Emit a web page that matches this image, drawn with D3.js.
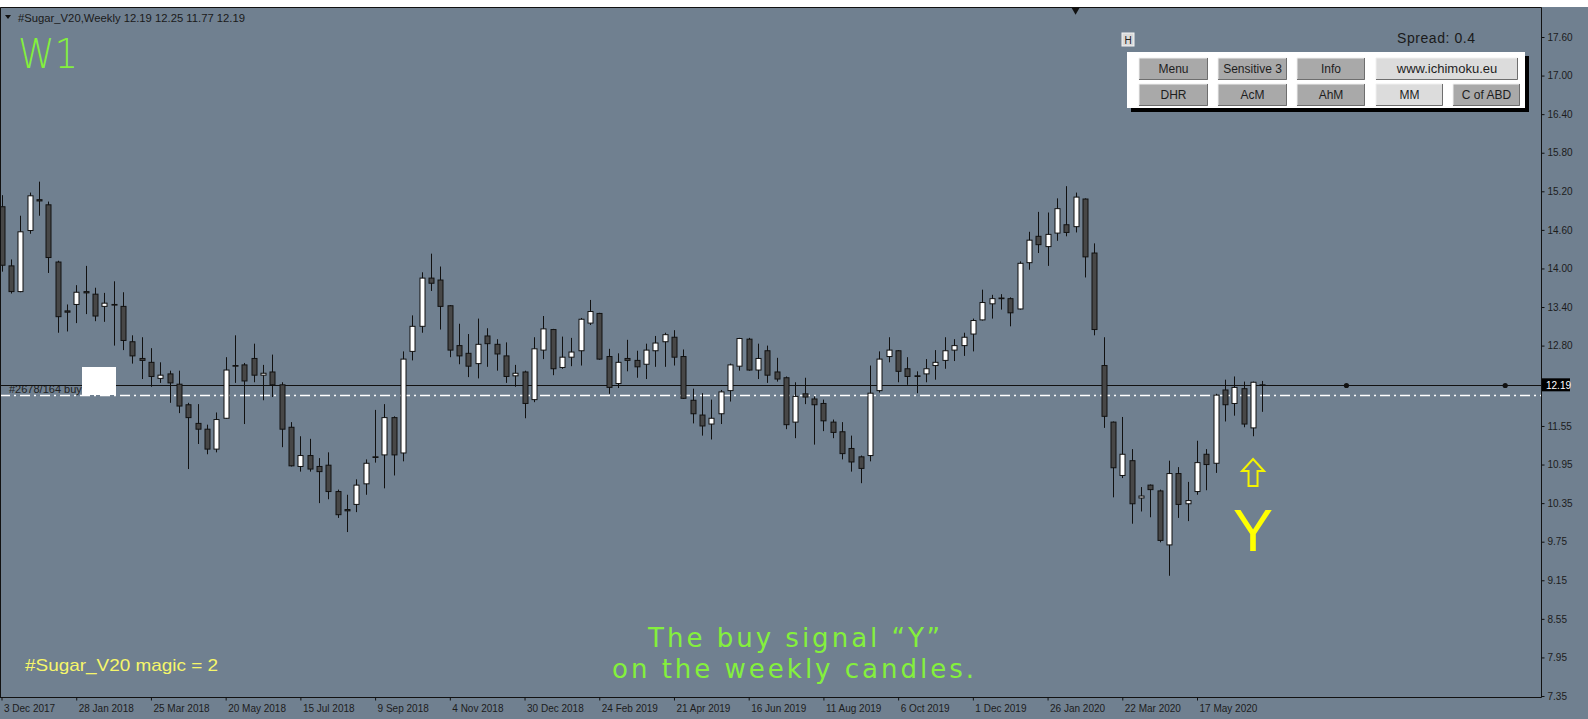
<!DOCTYPE html>
<html>
<head>
<meta charset="utf-8">
<script src="https://cdn.jsdelivr.net/npm/d3@7"></script>
<style>
  body { margin: 0; background: #ffffff; }
  svg { display: block; }
</style>
</head>
<body>
<div id="chart"></div>
<script>
// weekly candles, #Sugar_V20 (bar 0 = week of 3 Dec 2017)
var open  = [14.96,14.04,13.64,14.59,15.07,14.99,14.10,13.34,13.44,13.64,13.60,13.41,13.44,13.41,12.86,12.60,12.54,12.29,12.36,12.20,
             11.88,11.59,11.50,11.19,11.67,12.49,12.50,12.60,12.34,12.39,12.19,11.53,10.92,11.09,10.92,10.94,10.53,10.25,10.33,10.65,
             11.07,11.10,11.68,11.13,12.71,13.10,13.85,13.82,13.42,12.80,12.68,12.52,12.95,12.82,12.64,12.33,12.39,11.96,12.73,13.05,
             12.46,12.62,12.72,13.15,13.30,12.63,12.21,12.60,12.57,12.51,12.72,12.86,12.93,12.63,11.95,11.72,11.58,11.74,12.10,12.48,
             12.90,12.42,12.72,12.39,12.30,11.61,12.05,11.97,11.90,11.61,11.46,11.20,11.07,11.09,12.10,12.63,12.72,12.44,12.33,12.36,
             12.49,12.57,12.73,12.80,12.98,13.20,13.45,13.54,13.53,13.37,14.09,14.50,14.34,14.55,14.68,14.65,15.08,14.24,12.49,11.61,
             10.78,11.01,10.43,10.63,10.54,9.70,10.81,10.34,10.53,11.11,10.97,12.11,11.90,12.13,11.52,12.19];
var high  = [15.14,14.14,14.82,15.18,15.35,15.04,14.12,13.44,13.74,14.04,13.70,13.62,13.80,13.63,12.96,12.93,12.76,12.54,12.41,12.41,
             11.91,11.89,11.57,11.76,12.62,12.96,12.53,12.83,12.50,12.66,12.23,11.61,11.39,11.35,11.05,11.14,10.56,10.48,10.72,11.03,
             11.80,11.89,11.70,12.71,13.27,13.94,14.23,14.03,13.43,13.14,12.98,13.22,13.07,12.90,12.85,12.50,12.41,12.93,13.26,13.06,
             12.94,12.92,13.23,13.51,13.31,12.75,12.68,12.89,12.72,12.83,12.95,13.00,13.04,12.74,12.13,12.06,11.96,12.11,12.52,12.92,
             12.92,12.83,12.80,12.61,12.32,12.23,12.30,12.01,11.96,11.65,11.61,11.40,11.09,12.49,12.71,12.93,12.73,12.62,12.40,12.59,
             12.73,12.93,12.90,13.00,13.22,13.67,13.59,13.60,13.55,14.11,14.57,14.88,14.87,15.09,15.28,15.18,15.09,14.39,12.93,11.62,
             11.69,11.19,10.60,10.64,10.56,11.01,10.91,10.68,11.32,11.19,12.05,12.27,12.32,12.24,12.24,12.25];
var low   = [13.95,13.61,13.63,14.54,14.82,13.93,13.00,13.02,13.15,13.29,13.18,13.17,12.80,12.73,12.52,12.28,12.16,12.22,11.91,11.75,
             10.88,11.27,11.11,11.14,11.66,12.22,11.58,12.23,11.95,12.00,11.22,10.92,10.84,10.84,10.35,10.41,10.12,9.90,10.21,10.48,
             10.98,10.58,10.78,11.00,12.57,13.00,13.65,13.05,12.62,12.51,12.31,12.29,12.47,12.41,12.22,12.16,11.67,11.92,12.59,12.34,
             12.44,12.48,12.49,13.12,12.58,12.05,12.14,12.40,12.30,12.28,12.47,12.47,12.49,11.97,11.59,11.40,11.34,11.58,11.93,12.41,
             12.41,12.28,12.22,12.24,11.50,11.36,11.89,11.26,11.47,11.36,11.03,10.84,10.66,11.00,12.07,12.54,12.23,12.19,12.06,12.23,
             12.27,12.44,12.56,12.64,12.71,13.19,13.22,13.36,13.10,13.36,13.98,14.24,14.04,14.43,14.50,14.56,13.86,12.96,11.52,10.44,
             10.74,10.03,10.22,10.13,9.74,9.22,10.12,10.07,10.48,10.55,10.82,11.62,11.71,11.53,11.39,11.77];
var close = [14.05,13.64,14.57,15.13,15.05,14.17,13.25,13.32,13.63,13.62,13.26,13.46,13.43,12.88,12.64,12.57,12.32,12.34,12.22,11.86,
             11.68,11.50,11.19,11.65,12.42,12.48,12.25,12.34,12.37,12.19,11.50,10.93,11.09,10.88,10.84,10.53,10.17,10.23,10.63,10.97,
             11.06,11.68,11.10,12.59,13.10,13.85,13.77,13.41,12.73,12.64,12.48,12.82,12.83,12.67,12.32,12.37,11.90,12.75,13.06,12.44,
             12.62,12.70,13.21,13.33,12.59,12.15,12.54,12.57,12.47,12.73,12.84,12.97,12.62,11.98,11.74,11.55,11.67,12.08,12.50,12.91,
             12.42,12.60,12.34,12.28,11.57,12.01,12.00,11.88,11.63,11.45,11.12,10.99,10.89,12.06,12.59,12.73,12.40,12.32,12.32,12.44,
             12.54,12.72,12.80,12.93,13.19,13.47,13.53,13.53,13.31,14.08,14.44,14.37,14.53,14.93,14.56,15.11,14.18,13.05,11.70,10.90,
             11.11,10.34,10.46,10.56,9.77,10.81,10.33,10.39,10.98,10.95,12.03,11.88,12.15,11.58,12.23,12.19];

var dateLabels = ["3 Dec 2017","28 Jan 2018","25 Mar 2018","20 May 2018","15 Jul 2018","9 Sep 2018","4 Nov 2018",
                  "30 Dec 2018","24 Feb 2019","21 Apr 2019","16 Jun 2019","11 Aug 2019","6 Oct 2019","1 Dec 2019",
                  "26 Jan 2020","22 Mar 2020","17 May 2020"];
var priceTicks = [17.60,17.00,16.40,15.80,15.20,14.60,14.00,13.40,12.80,11.55,10.95,10.35,9.75,9.15,8.55,7.95,7.35];

var bid = 12.19;
var orderLevel = 12.03;
var bidDots = [144, 161];
var signalBar = 134;
var shiftBar = 115;
var buttons = [["Menu","Sensitive 3","Info","www.ichimoku.eu"],["DHR","AcM","AhM","MM","C of ABD"]];

var W = 1588, H = 719;
var plotRight = 1541, plotTop = 7, plotBottom = 697;

var svg = d3.select("#chart").append("svg")
    .attr("width", W).attr("height", H);

svg.append("rect").attr("x", 0).attr("y", plotTop).attr("width", W).attr("height", H - plotTop)
    .attr("fill", "#708090");

var x = d3.scaleLinear().domain([0, 128]).range([1.5, 1197]);
var y = d3.scaleLinear().domain([7.35, 17.60]).range([696, 37]);

// order line + label
svg.append("text").attr("x", 9).attr("y", y(bid) + 8)
    .style("font-family", "Liberation Sans, Arial, sans-serif").style("font-size", "11px")
    .attr("fill", "#222").text("#2678/164 buy");

svg.append("line")
    .attr("x1", 0).attr("x2", plotRight).attr("y1", Math.round(y(orderLevel)) + 0.5).attr("y2", Math.round(y(orderLevel)) + 0.5)
    .attr("stroke", "#ffffff").attr("stroke-width", 1.3).attr("stroke-dasharray", "10,4,2,4");

svg.append("line")
    .attr("x1", 0).attr("x2", plotRight).attr("y1", Math.round(y(bid)) + 0.5).attr("y2", Math.round(y(bid)) + 0.5)
    .attr("stroke", "#111").attr("stroke-width", 1);

svg.selectAll(".bidDot").data(bidDots).enter().append("circle")
    .attr("class", "bidDot")
    .attr("cx", function(d) { return x(d); }).attr("cy", Math.round(y(bid)) + 0.5).attr("r", 2.6)
    .attr("fill", "#111");

svg.append("rect").attr("x", 82).attr("y", 367).attr("width", 34).attr("height", 28).attr("fill", "#ffffff");

// candles
var bars = d3.range(open.length);
var g = svg.append("g");
g.selectAll(".wick").data(bars).enter().append("line")
    .attr("class", "wick")
    .attr("x1", function(i) { return Math.round(x(i)) + 0.5; })
    .attr("x2", function(i) { return Math.round(x(i)) + 0.5; })
    .attr("y1", function(i) { return y(high[i]); })
    .attr("y2", function(i) { return y(low[i]); })
    .attr("stroke", "#111").attr("stroke-width", 1);

g.selectAll(".body").data(bars).enter().append("rect")
    .attr("class", "body")
    .attr("x", function(i) { return Math.round(x(i)) - 2; })
    .attr("width", 5)
    .attr("y", function(i) { return y(Math.max(open[i], close[i])); })
    .attr("height", function(i) { return Math.max(0.01, Math.abs(y(open[i]) - y(close[i]))); })
    .attr("fill", function(i) { return close[i] >= open[i] ? "#ffffff" : "#474747"; })
    .attr("stroke", "#111").attr("stroke-width", 1);

// frame
svg.append("path")
    .attr("d", "M0.5," + plotBottom + "V" + (plotTop + 0.5) + "H" + (plotRight + 0.5) + "V" + (plotBottom + 0.5) + "H0")
    .attr("fill", "none").attr("stroke", "#111");

// shift marker
svg.append("path")
    .attr("d", d3.symbol().type(d3.symbolTriangle).size(30))
    .attr("transform", "translate(" + x(shiftBar) + ",10) rotate(180)")
    .attr("fill", "#111");

// price axis
var yAxis = svg.append("g")
    .attr("transform", "translate(" + (plotRight + 0.5) + ",0)")
    .call(d3.axisRight(y).tickValues(priceTicks).tickSize(3).tickPadding(3).tickFormat(d3.format(".2f")));
yAxis.select(".domain").remove();
yAxis.selectAll("text").style("font-family", "Liberation Sans, Arial, sans-serif").style("font-size", "10px").attr("fill", "#1c1c1c");
yAxis.selectAll("line").attr("stroke", "#111");

svg.append("rect").attr("x", plotRight + 1).attr("y", y(bid) - 6.5).attr("width", 28).attr("height", 13).attr("fill", "#000");
svg.append("text").attr("x", plotRight + 5).attr("y", y(bid) + 4)
    .style("font-family", "Liberation Sans, Arial, sans-serif").style("font-size", "10px")
    .attr("fill", "#fff").text(d3.format(".2f")(bid));

// time axis
var xAxis = svg.append("g")
    .attr("transform", "translate(0," + (plotBottom + 0.5) + ")")
    .call(d3.axisBottom(x).tickValues(d3.range(0, 129, 8)).tickSize(3).tickPadding(4)
      .tickFormat(function(d, i) { return dateLabels[i]; }));
xAxis.select(".domain").remove();
xAxis.selectAll("text").style("font-family", "Liberation Sans, Arial, sans-serif").style("font-size", "10px")
    .attr("fill", "#1c1c1c").attr("text-anchor", "start").attr("dx", 2);
xAxis.selectAll("line").attr("stroke", "#111");

// header
svg.append("path").attr("d", "M5,15L11,15L8,19Z").attr("fill", "#111");
svg.append("text").attr("x", 18).attr("y", 22)
    .style("font-family", "Liberation Sans, Arial, sans-serif").style("font-size", "10px")
    .attr("fill", "#1a1a1a").attr("textLength", 227).attr("lengthAdjust", "spacingAndGlyphs")
    .text("#Sugar_V20,Weekly  12.19 12.25 11.77 12.19");

svg.append("text").attr("x", 18).attr("y", 68)
    .style("font-family", "DejaVu Sans, sans-serif").style("font-size", "40px").style("font-weight", 200)
    .attr("fill", "#84f03c").attr("textLength", 60).attr("lengthAdjust", "spacingAndGlyphs").text("W1");

// info panel
svg.append("text").attr("x", 1397).attr("y", 43)
    .style("font-family", "Liberation Sans, Arial, sans-serif").style("font-size", "14px")
    .attr("fill", "#1a1a1a").attr("textLength", 78).text("Spread: 0.4");

svg.append("rect").attr("x", 1122).attr("y", 33).attr("width", 12).attr("height", 13)
    .attr("fill", "#d9d9d9").attr("stroke", "#f4f4f4");
svg.append("text").attr("x", 1128).attr("y", 43.5).attr("text-anchor", "middle")
    .style("font-family", "Liberation Sans, Arial, sans-serif").style("font-size", "10px").attr("fill", "#222").text("H");

svg.append("rect").attr("x", 1131).attr("y", 56).attr("width", 398).attr("height", 56).attr("fill", "#000");
svg.append("rect").attr("x", 1127).attr("y", 52).attr("width", 398).attr("height", 56).attr("fill", "#ffffff");

var btnLayout = [
  [[1139, 69], [1218, 69], [1297, 68], [1376, 142]],
  [[1139, 69], [1218, 69], [1297, 68], [1376, 67], [1453, 67]]
];
var btnLight = { "www.ichimoku.eu": true, "MM": true };
buttons.forEach(function(row, r) {
  var by = r === 0 ? 58 : 84;
  row.forEach(function(label, c) {
    var bx = btnLayout[r][c][0], bw = btnLayout[r][c][1], bh = 22;
    var light = btnLight[label];
    svg.append("rect").attr("x", bx).attr("y", by).attr("width", bw).attr("height", bh)
        .attr("fill", light ? "#dcdcdc" : "#a9a9a9");
    svg.append("path").attr("d", "M" + bx + "," + (by + bh) + "V" + by + "H" + (bx + bw))
        .attr("fill", "none").attr("stroke", "#f0f0f0");
    svg.append("path").attr("d", "M" + (bx + bw - 0.5) + "," + by + "V" + (by + bh - 0.5) + "H" + bx)
        .attr("fill", "none").attr("stroke", "#6e6e6e");
    svg.append("text").attr("x", bx + bw / 2).attr("y", by + 15).attr("text-anchor", "middle")
        .style("font-family", "Liberation Sans, Arial, sans-serif").style("font-size", light && label !== "MM" ? "13px" : "12px")
        .attr("fill", "#1e1e1e").text(label);
  });
});

// signal
var ax = x(signalBar);
svg.append("path")
    .attr("d", "M" + ax + ",459L" + (ax + 11) + ",471L" + (ax + 4.5) + ",471L" + (ax + 4.5) + ",486L" +
               (ax - 4.5) + ",486L" + (ax - 4.5) + ",471L" + (ax - 11) + ",471Z")
    .attr("fill", "none").attr("stroke", "#f4f400").attr("stroke-width", 2);
svg.append("text").attr("x", ax).attr("y", 551).attr("text-anchor", "middle")
    .style("font-family", "Liberation Sans, Arial, sans-serif").style("font-size", "60px")
    .attr("fill", "#ffff00").text("Y");

// notes
var note = svg.append("g").style("font-family", "DejaVu Sans, sans-serif").style("font-size", "26px")
    .attr("fill", "#84f03c");
note.append("text").attr("x", 648).attr("y", 647).attr("textLength", 292).attr("lengthAdjust", "spacing")
    .text("The buy signal \u201CY\u201D");
note.append("text").attr("x", 612).attr("y", 678).attr("textLength", 362).attr("lengthAdjust", "spacing")
    .text("on the weekly candles.");

svg.append("text").attr("x", 25).attr("y", 671)
    .style("font-family", "Liberation Sans Narrow, Liberation Sans, Arial, sans-serif").style("font-size", "17px")
    .attr("fill", "#f6f66a").attr("textLength", 193).attr("lengthAdjust", "spacingAndGlyphs")
    .text("#Sugar_V20  magic = 2");
</script>
</body>
</html>
